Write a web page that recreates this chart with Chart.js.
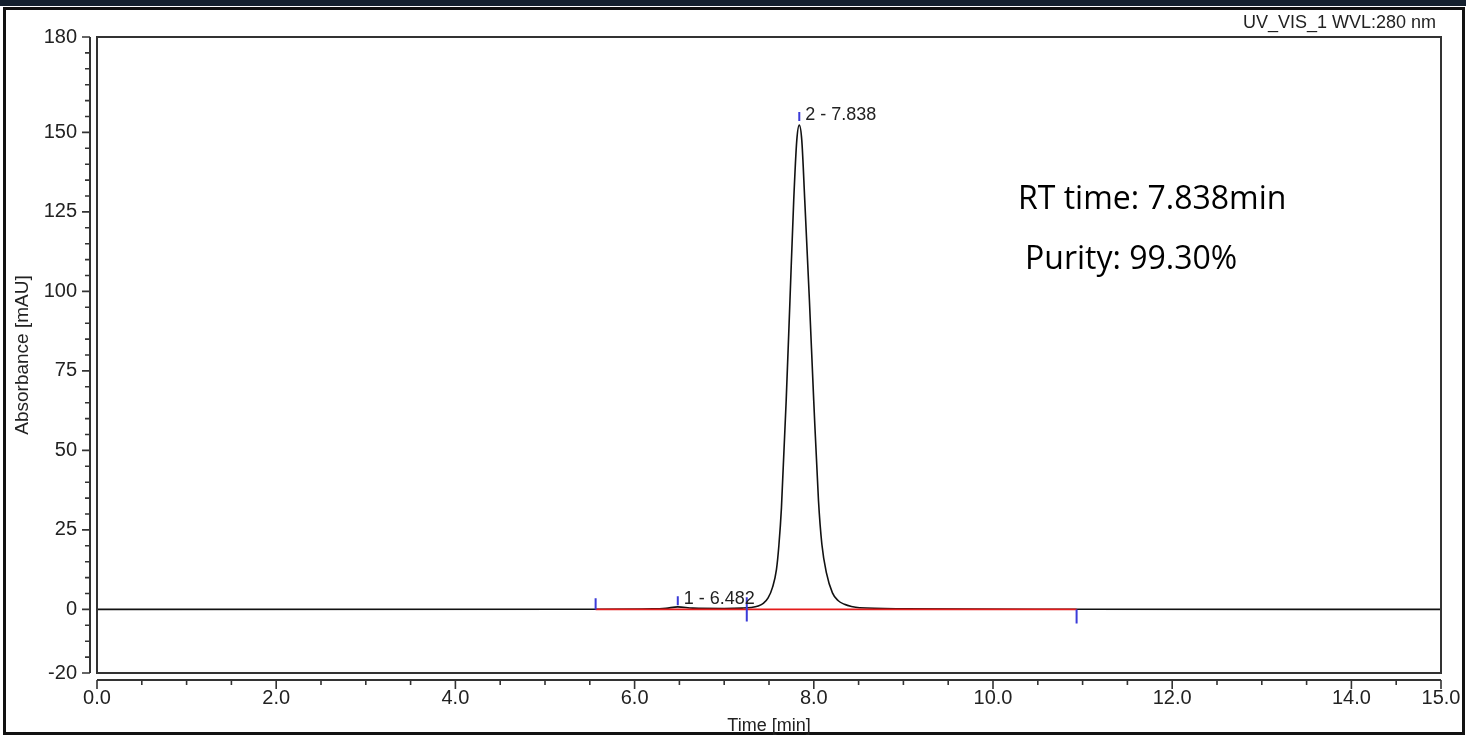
<!DOCTYPE html>
<html>
<head>
<meta charset="utf-8">
<title>UV_VIS_1 WVL:280 nm</title>
<script src="https://cdn.jsdelivr.net/npm/chart.js@4.4.0/dist/chart.umd.min.js"></script>
<style>
  html, body { margin: 0; padding: 0; background: #fff; }
</style>
</head>
<body>
<canvas id="plot" width="1466" height="736"></canvas>
<script>
// chromatogram trace (time in min, absorbance in mAU)
const timeMin = [0, 5.5, 6.2, 6.35, 6.482, 6.65, 7.0, 7.2, 7.3, 7.38, 7.44, 7.49, 7.54, 7.583, 7.61, 7.639,
    7.692, 7.734, 7.776, 7.81, 7.838, 7.866, 7.899, 7.951, 7.999, 8.052, 8.09, 8.141, 8.208, 8.27, 8.342,
    8.42, 8.51, 9.0, 11.0, 15.0];
const absorbance = [0, 0.05, 0.15, 0.35, 0.8, 0.4, 0.3, 0.4, 0.6, 1.1, 2.0, 3.6, 7.0, 12.5, 20, 32,
    65.8, 97.2, 128.7, 147.5, 152.3, 147.5, 128.7, 97.2, 65.8, 34.3, 20.5, 11.5, 5.2, 2.8, 1.6,
    0.9, 0.5, 0.2, 0.05, 0];

// integration baseline and its delimiters
const baselineTimes = [5.565, 10.933];
const boundaryTimes = [5.565, 7.252, 10.933];
const boundaryLow = [0, -3.8, -4.4];
const boundaryHigh = [3.5, 3.8, 0];

// peak marks
const peakTimes = [6.482, 7.838];
const peakTickLow = [1.3, 153.6];
const peakTickHigh = [4.1, 156.4];
const peakLabels = ['1 - 6.482', '2 - 7.838'];

// axis tick labels
const xTickLabels = [0, 2, 4, 6, 8, 10, 12, 14, 15];
const yTickLabels = [180, 150, 125, 100, 75, 50, 25, 0, -20];

const channelLabel = 'UV_VIS_1 WVL:280 nm';
const noteLines = ['RT time: 7.838min', 'Purity: 99.30%'];

const traceData = timeMin.map((t, i) => ({ x: t, y: absorbance[i] }));
const baselineData = baselineTimes.map(t => ({ x: t, y: 0 }));

const markerData = [];
boundaryTimes.forEach((t, i) => {
    markerData.push({ x: t, y: boundaryLow[i] }, { x: t, y: boundaryHigh[i] }, { x: t, y: null });
});
peakTimes.forEach((t, i) => {
    markerData.push({ x: t, y: peakTickLow[i] }, { x: t, y: peakTickHigh[i] }, { x: t, y: null });
});

const AX = '#333';

const decorations = {
    id: 'decorations',
    beforeDraw(chart) {
        const c = chart.ctx;
        c.save();
        c.fillStyle = '#fff';
        c.fillRect(0, 0, chart.width, chart.height);
        // outer frame
        c.fillStyle = '#14202e';
        c.fillRect(0, 0, chart.width, 6);
        c.strokeStyle = '#111';
        c.lineWidth = 3;
        c.strokeRect(4.5, 8.5, chart.width - 7, chart.height - 11);
        c.restore();
    },
    afterDraw(chart) {
        const c = chart.ctx;
        const a = chart.chartArea;
        const xs = chart.scales.x;
        const ys = chart.scales.y;
        c.save();
        // plot frame
        c.strokeStyle = AX;
        c.lineWidth = 2;
        c.strokeRect(a.left, a.top, a.right - a.left, a.bottom - a.top);
        // detached axis lines
        const yAxisX = a.left - 7;
        const xAxisY = a.bottom + 7;
        c.beginPath();
        c.moveTo(yAxisX, a.top);
        c.lineTo(yAxisX, a.bottom);
        c.moveTo(a.left, xAxisY);
        c.lineTo(a.right, xAxisY);
        c.stroke();
        c.lineWidth = 1.6;
        c.beginPath();
        ys.ticks.forEach(tk => {
            const py = ys.getPixelForValue(tk.value);
            const len = yTickLabels.includes(tk.value) ? 8 : 5;
            c.moveTo(yAxisX, py);
            c.lineTo(yAxisX - len, py);
        });
        xs.ticks.forEach(tk => {
            const px = xs.getPixelForValue(tk.value);
            const len = xTickLabels.includes(tk.value) ? 9 : 5;
            c.moveTo(px, xAxisY);
            c.lineTo(px, xAxisY + len);
        });
        c.stroke();

        // peak labels
        c.fillStyle = '#222';
        c.font = '18px "Liberation Sans", Arial, sans-serif';
        c.textAlign = 'left';
        c.textBaseline = 'alphabetic';
        peakTimes.forEach((t, i) => {
            c.fillText(peakLabels[i], xs.getPixelForValue(t) + 6, ys.getPixelForValue(peakTickLow[i]) - 1);
        });

        // channel label
        c.font = '18px "Liberation Sans", Arial, sans-serif';
        c.textAlign = 'right';
        c.fillText(channelLabel, a.right - 5, 28);

        // notes
        c.fillStyle = '#000';
        c.font = '32px "Open Sans", "Noto Sans", sans-serif';
        c.textAlign = 'left';
        c.fillText(noteLines[0], 1018, 209);
        c.fillText(noteLines[1], 1025, 269);
        c.restore();
    }
};

const ctx = document.getElementById('plot').getContext('2d');

new Chart(ctx, {
    type: 'line',
    data: {
        datasets: [
            {
                label: 'markers',
                data: markerData,
                borderColor: '#3b3bd8',
                borderWidth: 2,
                pointRadius: 0,
                spanGaps: false,
                order: 0
            },
            {
                label: 'baseline',
                data: baselineData,
                borderColor: '#e31b1b',
                borderWidth: 1.8,
                pointRadius: 0,
                order: 1
            },
            {
                label: channelLabel,
                data: traceData,
                borderColor: '#111',
                borderWidth: 1.6,
                pointRadius: 0,
                cubicInterpolationMode: 'monotone',
                order: 2
            }
        ]
    },
    options: {
        responsive: false,
        animation: false,
        devicePixelRatio: 1,
        layout: { padding: { top: 37, right: 25, left: 0, bottom: 0 } },
        plugins: {
            legend: { display: false },
            tooltip: { enabled: false }
        },
        scales: {
            x: {
                type: 'linear',
                min: 0,
                max: 15,
                border: { display: false },
                grid: { display: false, drawTicks: false },
                ticks: {
                    stepSize: 0.5,
                    autoSkip: false,
                    maxRotation: 0,
                    padding: 13,
                    color: '#222',
                    font: { family: '"Liberation Sans", Arial, sans-serif', size: 20 },
                    callback: v => xTickLabels.includes(v) ? v.toFixed(1) : ''
                },
                title: {
                    display: true,
                    text: 'Time [min]',
                    color: '#222',
                    font: { family: '"Liberation Sans", Arial, sans-serif', size: 18 },
                    padding: { top: 0, bottom: -1 }
                },
                afterFit: s => {
                    s.height = 63;
                    // keep the end labels from shrinking the plot box
                    s.paddingLeft = 0;
                    s.paddingRight = 0;
                }
            },
            y: {
                min: -20,
                max: 180,
                border: { display: false },
                grid: { display: false, drawTicks: false },
                ticks: {
                    stepSize: 5,
                    autoSkip: false,
                    padding: 20,
                    color: '#222',
                    font: { family: '"Liberation Sans", Arial, sans-serif', size: 20 },
                    callback: v => yTickLabels.includes(v) ? String(v) : ''
                },
                title: {
                    display: true,
                    text: 'Absorbance [mAU]',
                    color: '#222',
                    font: { family: '"Liberation Sans", Arial, sans-serif', size: 19 },
                    padding: { top: 11, bottom: 0 }
                },
                afterFit: s => {
                    s.width = 97;
                    s.paddingTop = 0;
                    s.paddingBottom = 0;
                }
            }
        }
    },
    plugins: [decorations]
});
</script>
</body>
</html>
